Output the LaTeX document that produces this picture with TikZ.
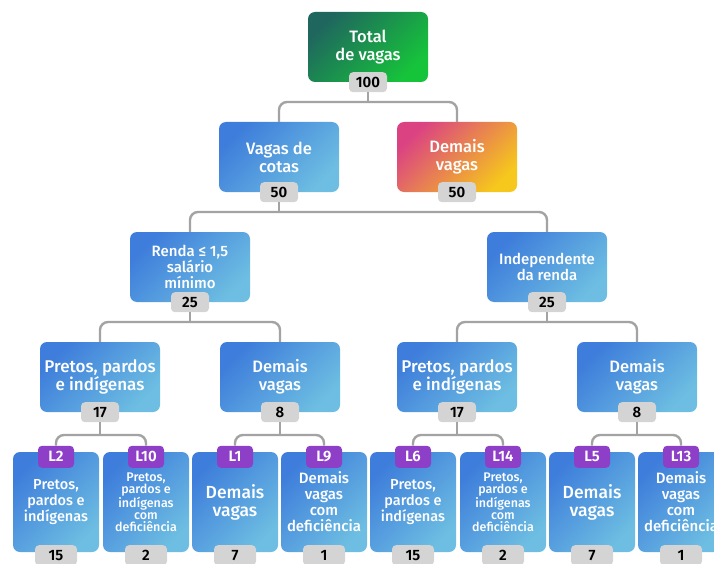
\documentclass[tikz,border=0pt]{standalone}
\usepackage{fontspec}
\setmainfont{Fira Sans}[UprightFont=* Medium, BoldFont=* SemiBold]
\usepackage{tikz}
\usetikzlibrary{positioning}

\definecolor{blueA}{HTML}{3E7DDB}
\definecolor{blueB}{HTML}{6DBEE2}
\definecolor{greenA}{HTML}{1F675E}
\definecolor{greenB}{HTML}{16C43A}
\definecolor{pinkA}{HTML}{DB4282}
\definecolor{orangeB}{HTML}{EC8A45}
\definecolor{yellowC}{HTML}{F6C71C}
\definecolor{badgegray}{HTML}{D4D4D4}
\definecolor{codepurple}{HTML}{8E3FC8}
\definecolor{linegray}{HTML}{A3A3A3}

\newcommand{\fsz}[1]{\fontsize{#1}{1.08\dimexpr#1pt\relax}\selectfont}

\tikzset{
  box/.style={rounded corners=7pt, minimum width=120pt, minimum height=70pt,
    align=center, text=white, inner sep=1pt, font=\fsz{15}},
  bluebox/.style={box, left color=blueA, right color=blueB, shading angle=45},
  leafbox/.style={bluebox, minimum width=86pt, minimum height=100pt},
  num/.style={fill=badgegray, rounded corners=4pt, minimum width=38pt,
    minimum height=20pt, inner sep=0pt, font=\bfseries\fsz{15}},
  leafnum/.style={num, minimum width=42pt},
  code/.style={num, fill=codepurple, text=white, minimum width=36pt, minimum height=22pt},
  conn/.style={draw=linegray, line width=2.4pt},
  branch/.style={conn, rounded corners=8pt},
}

\begin{document}
\begin{tikzpicture}[x=1pt, y=-1pt]
    \useasboundingbox (0,0) rectangle (714,564);
    \clip (0,0) rectangle (714,564);

    % Top
    \node[box, font=\fsz{16.5}, left color=greenA, right color=greenB, shading angle=45] (total) at (368,47) {Total\\de vagas};
    \node[num] (n100) at (total.south) {100};

    % Level 2
    \node[bluebox, font=\fsz{16.5}] (cotas) at (279,157) {Vagas de\\cotas};
    \node[num] (ncotas) at (cotas.south) {50};
    \node[box, font=\fsz{16.5}, left color=pinkA, middle color=orangeB, right color=yellowC, shading angle=45] (demais) at (457,157) {Demais\\vagas};
    \node[num] (ndemais) at (demais.south) {50};

    % Level 3
    \node[bluebox] (renda) at (190,267) {Renda ≤ 1,5\\salário\\mínimo};
    \node[num] (nrenda) at (renda.south) {25};
    \node[bluebox] (indep) at (547,267) {Independente\\da renda};
    \node[num] (nindep) at (indep.south) {25};

    % Level 4
    \node[bluebox, font=\fsz{17}] (ppiA) at (100,377) {Pretos, pardos\\e indígenas};
    \node[num] (nppiA) at (ppiA.south) {17};
    \node[bluebox, font=\fsz{16.5}] (demA) at (280,377) {Demais\\vagas};
    \node[num] (ndemA) at (demA.south) {8};
    \node[bluebox, font=\fsz{17}] (ppiB) at (457,377) {Pretos, pardos\\e indígenas};
    \node[num] (nppiB) at (ppiB.south) {17};
    \node[bluebox, font=\fsz{16.5}] (demB) at (637,377) {Demais\\vagas};
    \node[num] (ndemB) at (demB.south) {8};

    % Leaves
    \node[leafbox, font=\fontsize{14.5}{16}\selectfont] (l2) at (56,502) {Pretos,\\pardos e\\indígenas};
    \node[leafbox, font=\fontsize{12.5}{12}\selectfont] (l10) at (146,502) {Pretos,\\pardos e\\indígenas\\com\\deficiência};
    \node[leafbox, font=\fontsize{17.5}{18}\selectfont] (l1) at (235,502) {Demais\\vagas};
    \node[leafbox, font=\fontsize{15}{16}\selectfont] (l9) at (324,502) {Demais\\vagas\\com\\deficiência};
    \node[leafbox, font=\fontsize{14.5}{16}\selectfont] (l6) at (413,502) {Pretos,\\pardos e\\indígenas};
    \node[leafbox, font=\fontsize{12.5}{12}\selectfont] (l14) at (503,502) {Pretos,\\pardos e\\indígenas\\com\\deficiência};
    \node[leafbox, font=\fontsize{17.5}{18}\selectfont] (l5) at (592,502) {Demais\\vagas};
    \node[leafbox, font=\fontsize{15}{16}\selectfont] (l13) at (681,502) {Demais\\vagas\\com\\deficiência};

    \foreach \leaf/\code/\val in {l2/L2/15, l10/L10/2, l1/L1/7, l9/L9/1, l6/L6/15, l14/L14/2, l5/L5/7, l13/L13/1} {
        \node[code] (c\leaf) at ([yshift=-5pt]\leaf.north) {\code};
        \node[leafnum] (n\leaf) at ([yshift=-3pt]\leaf.south) {\val};
    }

    % Junctions
    \coordinate (j1) at (368,102);
    \coordinate (j2) at (279,212);
    \coordinate (j3) at (190,322);
    \coordinate (j4) at (547,322);
    \coordinate (j5) at (100,435);
    \coordinate (j6) at (280,435);
    \coordinate (j7) at (457,435);
    \coordinate (j8) at (637,435);

    % Connectors
    \foreach \from/\j/\left/\right in {n100/j1/cotas/demais, ncotas/j2/renda/indep,
        nrenda/j3/ppiA/demA, nindep/j4/ppiB/demB} {
        \draw[conn] (\from.south) -- (\j);
        \draw[branch] (\j) -| (\left.north);
        \draw[branch] (\j) -| (\right.north);
    }
    \foreach \from/\j/\left/\right in {nppiA/j5/l2/l10, ndemA/j6/l1/l9,
        nppiB/j7/l6/l14, ndemB/j8/l5/l13} {
        \draw[conn] (\from.south) -- (\j);
        \draw[branch] (\j) -| (c\left.north);
        \draw[branch] (\j) -| (c\right.north);
    }
\end{tikzpicture}
\end{document}
